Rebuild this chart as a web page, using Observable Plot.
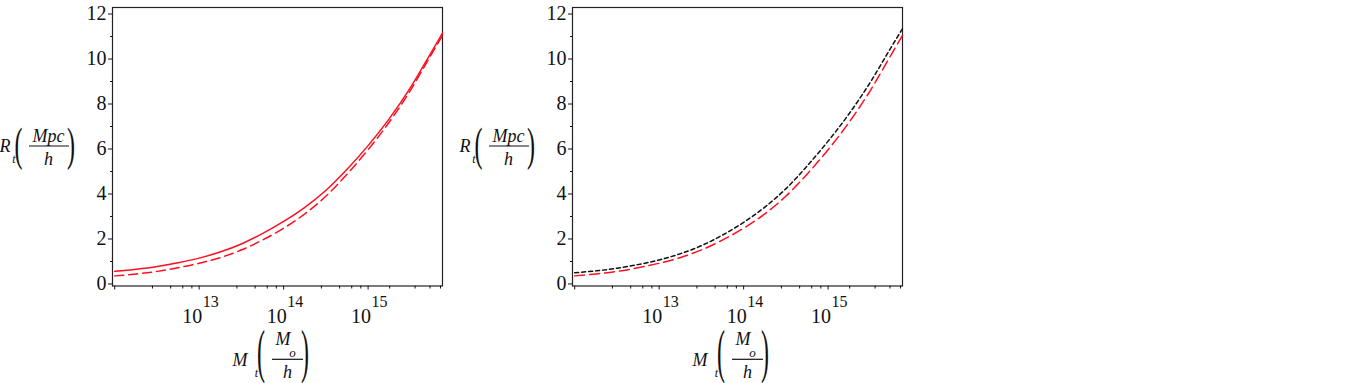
<!DOCTYPE html>
<html>
<head>
<meta charset="utf-8">
<script src="https://cdn.jsdelivr.net/npm/d3@7"></script>
<script src="https://cdn.jsdelivr.net/npm/@observablehq/plot@0.6"></script>
<style>
  html, body { margin: 0; padding: 0; background: #fff; }
  #wrap { position: relative; width: 1362px; height: 383px; background: #fff; overflow: hidden; }
  .panel { position: absolute; top: 0; width: 460px; height: 383px; }
  .panel svg { overflow: visible; }
</style>
</head>
<body>
<div id="wrap">
  <div class="panel" id="p1" style="left:0px"></div>
  <div class="panel" id="p2" style="left:460px"></div>
</div>
<script>
// ---- data ----
const mass = [1e12, 1.8e12, 3.2e12, 5.6e12, 1e13, 1.8e13, 3.2e13, 5.6e13, 1e14, 1.8e14, 3.2e14, 5.6e14, 1e15, 1.8e15, 3.2e15, 5.6e15, 7.6e15];
const radiusSolidRed = [0.56, 0.655, 0.78, 0.945, 1.15, 1.43, 1.79, 2.24, 2.78, 3.42, 4.18, 5.09, 6.15, 7.37, 8.75, 10.30, 11.15];
const radiusDashedRed = [0.36, 0.445, 0.56, 0.72, 0.92, 1.18, 1.52, 1.95, 2.48, 3.13, 3.92, 4.87, 5.97, 7.22, 8.63, 10.20, 11.05];
const radiusDashedBlack = [0.50, 0.585, 0.70, 0.86, 1.07, 1.35, 1.71, 2.17, 2.74, 3.43, 4.25, 5.23, 6.35, 7.60, 9.00, 10.53, 11.35];

const xMajorTicks = [1e12, 1e13, 1e14, 1e15];
const xLabelTicks = [1e13, 1e14, 1e15];
const xLabelExponents = ["13", "14", "15"];
const xMinorTicks = [2.8e12, 4.6e12, 6.4e12, 8.2e12, 2.8e13, 4.6e13, 6.4e13, 8.2e13,
                     2.8e14, 4.6e14, 6.4e14, 8.2e14, 1.8e15, 3.6e15, 5.4e15, 7.2e15];
const yMajorTicks = [0, 2, 4, 6, 8, 10, 12];
const yMinorTicks = [1, 3, 5, 7, 9, 11];

const xDomain = [9.42e11, 7.6e15];
const yDomain = [-0.09, 12.29];

function table(ys) { return mass.map((m, i) => ({m, r: ys[i]})); }

function baseMarks() {
  return [
    Plot.axisY(yMajorTicks, {tickSize: 4, tickPadding: 2, fontSize: 20, label: null}),
    Plot.axisY(yMinorTicks, {tickSize: 2, tickFormat: () => "", label: null}),
    Plot.axisX(xMajorTicks, {tickSize: 4, tickFormat: () => "", label: null}),
    Plot.axisX(xMinorTicks, {tickSize: 3, tickFormat: () => "", label: null}),
    Plot.text(xLabelTicks, {x: d => d, text: () => "10", frameAnchor: "bottom", lineAnchor: "bottom",
      textAnchor: "end", dx: 3, dy: 36.5, fontSize: 20, fill: "#111"}),
    Plot.text(xLabelTicks, {x: d => d, text: (d, i) => xLabelExponents[i], frameAnchor: "bottom", lineAnchor: "bottom",
      textAnchor: "start", dx: 3.5, dy: 20.5, fontSize: 16, fill: "#111"}),
    Plot.frame({stroke: "#222", strokeWidth: 1.2})
  ];
}

function makePlot(lineMarks) {
  return Plot.plot({
    width: 460,
    height: 383,
    marginLeft: 112,
    marginRight: 18,
    marginTop: 7,
    marginBottom: 97.5,
    style: {fontFamily: "'Liberation Serif', 'Times New Roman', serif", fontSize: "20px", background: "white", color: "#111", overflow: "visible"},
    x: {type: "log", domain: xDomain},
    y: {domain: yDomain},
    marks: [...baseMarks(), ...lineMarks]
  });
}

function paren(g, ch, x, y, s) {
  g.append("text")
    .attr("transform", `translate(${x},${y}) scale(1,${s})`)
    .attr("font-style", "normal")
    .attr("font-size", 24)
    .text(ch);
}

function addLabels(svg) {
  const g = d3.select(svg).append("g")
    .attr("font-family", "'Liberation Serif', 'Times New Roman', serif")
    .attr("font-style", "italic")
    .attr("fill", "#111");
  // y label: R_t (Mpc / h)
  g.append("text").attr("x", 5).attr("y", 152).attr("font-size", 18).text("R");
  g.append("text").attr("x", 14).attr("y", 163).attr("font-size", 12).text("t");
  paren(g, "(", 18.5, 159.7, 1.95);
  g.append("text").attr("x", 48.5).attr("y", 142).attr("text-anchor", "middle").attr("font-size", 18).text("Mpc");
  g.append("line").attr("x1", 29).attr("x2", 69).attr("y1", 146).attr("y2", 146).attr("stroke", "#111").attr("stroke-width", 1.2);
  g.append("text").attr("x", 48.5).attr("y", 164.5).attr("text-anchor", "middle").attr("font-size", 18).text("h");
  paren(g, ")", 71, 159.7, 1.95);
  // x label: M_t (M_o / h)
  g.append("text").attr("x", 240).attr("y", 366).attr("font-size", 18).text("M");
  g.append("text").attr("x", 256.5).attr("y", 377).attr("font-size", 12).text("t");
  paren(g, "(", 261, 371.3, 2.44);
  g.append("text").attr("x", 283).attr("y", 345).attr("text-anchor", "middle").attr("font-size", 18).text("M");
  g.append("text").attr("x", 292.5).attr("y", 357).attr("font-size", 13).text("o");
  g.append("line").attr("x1", 272).attr("x2", 303).attr("y1", 359.3).attr("y2", 359.3).attr("stroke", "#111").attr("stroke-width", 1.2);
  g.append("text").attr("x", 287.5).attr("y", 378).attr("text-anchor", "middle").attr("font-size", 18).text("h");
  paren(g, ")", 305, 371.3, 2.44);
}

const plot1 = makePlot([
  Plot.line(table(radiusDashedRed), {x: "m", y: "r", stroke: "#ff1020", strokeWidth: 1.5, strokeDasharray: "9,5", curve: "monotone-x"}),
  Plot.line(table(radiusSolidRed), {x: "m", y: "r", stroke: "#ff1020", strokeWidth: 1.5, curve: "monotone-x"})
]);
addLabels(plot1);
document.getElementById("p1").appendChild(plot1);

const plot2 = makePlot([
  Plot.line(table(radiusDashedRed), {x: "m", y: "r", stroke: "#ff1020", strokeWidth: 1.5, strokeDasharray: "10,5", curve: "monotone-x"}),
  Plot.line(table(radiusDashedBlack), {x: "m", y: "r", stroke: "#111", strokeWidth: 1.5, strokeDasharray: "4,3", curve: "monotone-x"})
]);
addLabels(plot2);
document.getElementById("p2").appendChild(plot2);
</script>
</body>
</html>
